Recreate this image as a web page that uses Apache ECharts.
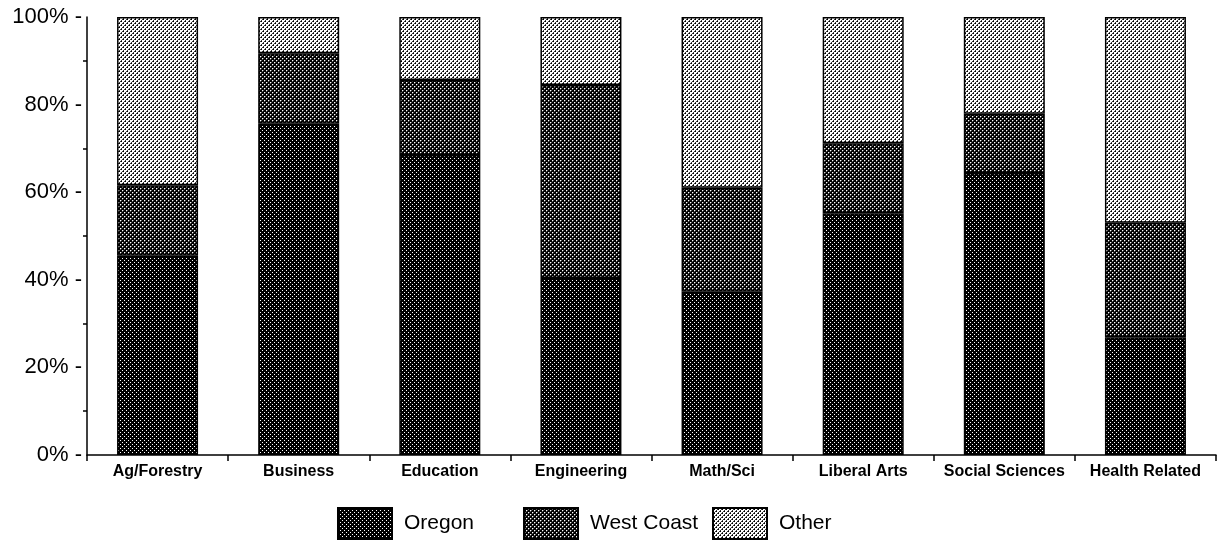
<!DOCTYPE html>
<html><head><meta charset="utf-8">
<script src="https://cdn.jsdelivr.net/npm/echarts@6/dist/echarts.min.js"></script>
<style>html,body{margin:0;padding:0;background:#fff}#c{width:1221px;height:553px}</style>
</head><body><div id="c"></div>
<script>
const categories = ['Ag/Forestry','Business','Education','Engineering','Math/Sci','Liberal Arts','Social Sciences','Health Related'];
const seriesNames = ['Oregon','West Coast','Other'];
const oregon    = [45.5, 75.6, 68.5, 40.4, 37.3, 55.2, 64.4, 26.9];
const westCoast = [16.1, 16.1, 17.1, 44.1, 23.7, 16.0, 13.5, 26.1];
const other     = [38.4,  8.3, 14.4, 15.5, 39.0, 28.8, 22.1, 47.0];
const yTicks = [0, 20, 40, 60, 80, 100];

function pattern(bg, layers) {
  const c = document.createElement('canvas');
  c.width = 4; c.height = 4;
  const g = c.getContext('2d');
  g.fillStyle = bg; g.fillRect(0, 0, 4, 4);
  layers.forEach(l => { g.fillStyle = l[0]; l[1].forEach(p => g.fillRect(p[0], p[1], 1, 1)); });
  return { image: c, repeat: 'repeat' };
}
const fills = [
  pattern('#000', [['#fff', [[0,0],[2,2]]]]),
  pattern('#000', [['#fff', [[0,0],[2,2]]], ['#5a5a5a', [[1,0],[3,2],[0,1],[2,3]]]]),
  pattern('#fff', [['#000', [[1,1],[3,3]]], ['#3a3a3a', [[0,1],[2,3],[1,0],[3,2]]]])
];
const data = [oregon, westCoast, other];
const font = 'Liberation Sans, Arial, Helvetica, sans-serif';
const legendLeft = [337, 523, 712];

const chart = echarts.init(document.getElementById('c'), null, {renderer: 'canvas'});
chart.setOption({
  animation: false,
  backgroundColor: '#fff',
  grid: { left: 87, right: 5, top: 17, bottom: 98, containLabel: false },
  legend: seriesNames.map((n, i) => ({
    top: 507, left: legendLeft[i], padding: 0,
    itemWidth: 54, itemHeight: 31,
    icon: 'rect',
    textStyle: { fontFamily: font, fontSize: 21, color: '#000', padding: [0,0,0,7] },
    data: [n]
  })),
  xAxis: {
    type: 'category', data: categories,
    axisLine: { lineStyle: { color: '#000', width: 1.5 } },
    axisTick: { show: true, interval: 0, length: 6, lineStyle: { color: '#000', width: 1.5 } },
    axisLabel: { interval: 0, fontFamily: font, fontSize: 16, fontWeight: 'bold', color: '#000', margin: 9 }
  },
  yAxis: {
    type: 'value', min: yTicks[0], max: yTicks[yTicks.length-1], interval: 20,
    axisLine: { show: true, lineStyle: { color: '#000', width: 1.5 } },
    axisTick: { show: false },
    minorTick: { show: true, splitNumber: 2, length: 4, lineStyle: { color: '#000', width: 1.5 } },
    splitLine: { show: false },
    axisLabel: { formatter: '{value}% -', fontFamily: font, fontSize: 22, color: '#000', margin: 5 }
  },
  series: seriesNames.map((n, i) => ({
    name: n, type: 'bar', stack: 'all', barWidth: 81,
    data: data[i],
    itemStyle: { color: fills[i], borderColor: '#000', borderWidth: 1.5 }
  }))
});
</script></body></html>
